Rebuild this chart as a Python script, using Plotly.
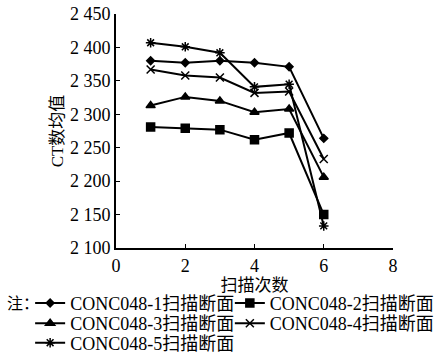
import plotly.graph_objects as go

scans = [1, 2, 3, 4, 5, 6]
s1 = [2380, 2377, 2380, 2377, 2371, 2264]
s2 = [2281, 2279, 2277, 2262, 2272, 2150]
s3 = [2313, 2326, 2320, 2303, 2308, 2206]
s4 = [2367, 2358, 2355, 2332, 2334, 2233]
s5 = [2407, 2401, 2392, 2341, 2345, 2133]
names = ["CONC048-1扫描断面", "CONC048-2扫描断面", "CONC048-3扫描断面",
         "CONC048-4扫描断面", "CONC048-5扫描断面"]
yticks = [2100, 2150, 2200, 2250, 2300, 2350, 2400, 2450]
yticktext = ["2 100", "2 150", "2 200", "2 250", "2 300", "2 350", "2 400", "2 450"]
xticks = [0, 2, 4, 6, 8]

FONT = "Times New Roman, Liberation Serif, DejaVu Serif, serif, Noto Sans CJK SC"

symbols = ["diamond", "square", "triangle-up", "x-thin-open", "asterisk-open"]
sizes = [6, 8, 8, 8, 8]
legend_ids = ["legend", "legend2", "legend3", "legend4", "legend5"]
fig = go.Figure()
for name, ys, sym, sz, lg in zip(names, [s1, s2, s3, s4, s5], symbols, sizes, legend_ids):
    fig.add_trace(go.Scatter(
        x=scans, y=ys, name=name, mode="lines+markers", legend=lg,
        line=dict(color="black", width=2),
        marker=dict(symbol=sym, size=sz, color="black",
                    line=dict(color="black", width=1.5)),
    ))

leg_common = dict(orientation="v", yanchor="middle", xanchor="left",
                  font=dict(family=FONT, size=18, color="black"),
                  tracegroupgap=0, itemwidth=30, bgcolor="rgba(0,0,0,0)",
                  borderwidth=0)
# legend slot positions (paper coordinates): two columns, three rows
col_x = [-0.31, 0.411, -0.31, 0.411, -0.31]
row_y = [-0.236, -0.236, -0.323, -0.323, -0.406]
legend_layout = {lg: dict(x=cx, y=ry, **leg_common)
                 for lg, cx, ry in zip(legend_ids, col_x, row_y)}

fig.update_layout(
    width=440, height=356,
    margin=dict(l=116, r=47, t=14, b=108, autoexpand=False),
    paper_bgcolor="white", plot_bgcolor="white",
    font=dict(family=FONT, size=17, color="black"),
    showlegend=True,
    annotations=[dict(text="注：", xref="paper", yref="paper", x=-0.4, y=-0.236,
                      xanchor="left", yanchor="middle", showarrow=False,
                      font=dict(family=FONT, size=16))],
    **legend_layout,
)
fig.update_xaxes(range=[0, 8], tickvals=xticks, showgrid=False, zeroline=False,
                 showline=True, linecolor="black", linewidth=2,
                 ticks="inside", ticklen=4, tickcolor="black",
                 tickfont=dict(size=18),
                 title=dict(text="扫描次数", standoff=0, font=dict(size=17)))
fig.update_yaxes(range=[2100, 2450], tickvals=yticks, ticktext=yticktext,
                 showgrid=False, zeroline=False,
                 showline=True, linecolor="black", linewidth=2,
                 ticks="inside", ticklen=4, tickcolor="black",
                 tickfont=dict(size=18),
                 title=dict(text="CT数均值", standoff=2, font=dict(size=17)))

fig.write_html("out.html")
